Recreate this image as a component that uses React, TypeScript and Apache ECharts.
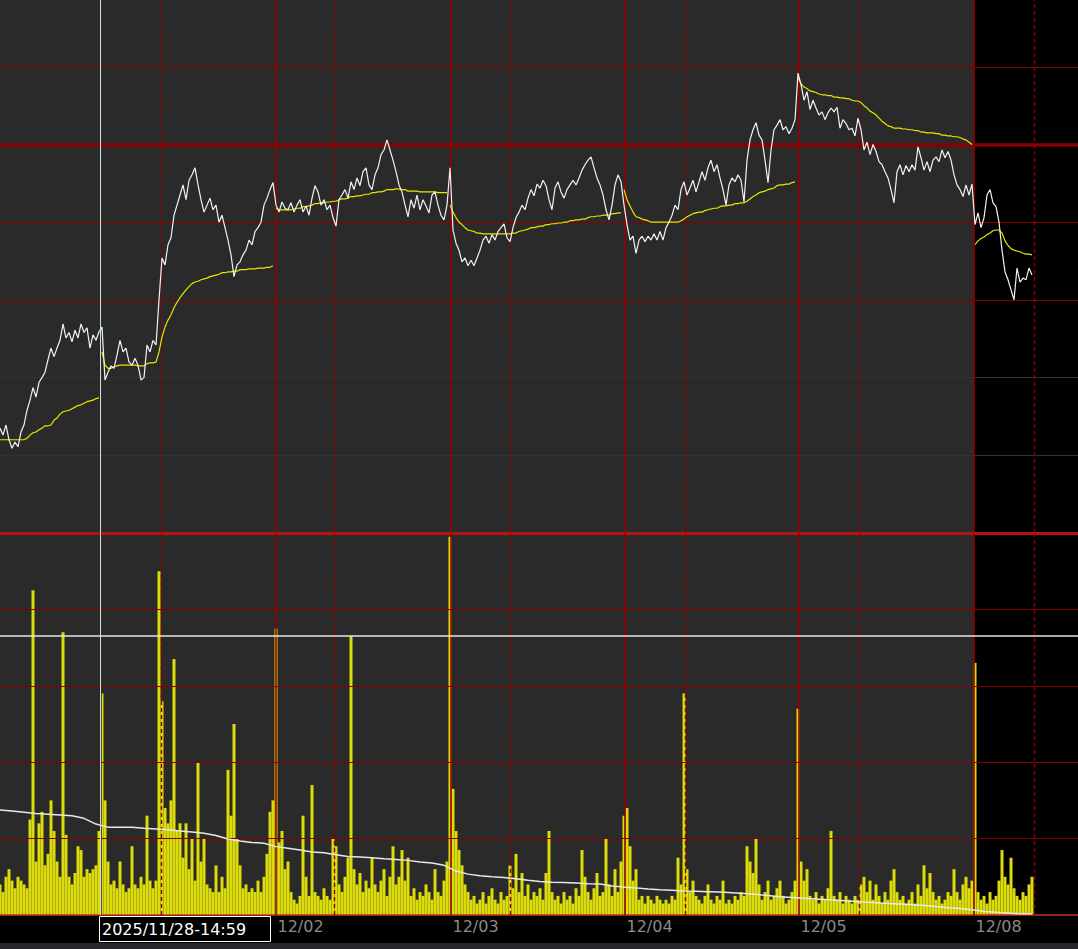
import React, { useEffect, useRef } from "react";
import * as echarts from "echarts";

// ---- axes (bar index) ----
const X_MIN = 0;
const X_MAX = 359.33;
const PRICE_MIN = 2400;
const PRICE_MAX = 2468.6;
const PRICE_STEP = 10;
const VOL_MIN = 0;
const VOL_MAX = 100;
const VOL_STEP = 20;

// session starts (12/01, 12/02, 12/03, 12/04, 12/05, 12/08)
const SESSION_STARTS = [33.5, 91.833, 150.167, 208.167, 266.167, 324.5];
// mid-morning dashed markers
const SESSION_MARKS = [53.833, 111.5, 170.167, 228.5, 286.5, 344.833];
const DAY_TICKS = [91.833, 150.167, 208.167, 266.167, 324.5];
const DAY_LABELS = ["12/02", "12/03", "12/04", "12/05", "12/08"];
const DAY_FIRST_BAR = [0, 34, 92, 150, 208, 266, 325];

// reference levels
const PRICE_LEVELS_THIN = [2460, 2440, 2430];
const PRICE_LEVELS_THICK = [2450];
const PRICE_LEVELS_FAINT = [2420, 2410];
const VOL_LEVELS = [20, 40, 60, 80];

// crosshair
const CROSS_X = 33.33;
const CROSS_VOL = 73.0;
const CROSS_LABEL = "2025/11/28-14:59";

// ---- price (last) per bar ----
const PRICE_1128 = [
  2413.5, 2412.6, 2413.9, 2412.0, 2410.9, 2411.7, 2411.1, 2413.0, 2413.9, 2415.8,
  2417.1, 2418.7, 2417.5, 2419.4, 2420.0, 2420.7, 2422.3, 2423.8, 2422.7, 2423.8,
  2424.8, 2426.9, 2425.1, 2425.8, 2424.6, 2426.1, 2425.1, 2426.9, 2425.8, 2426.4,
  2423.8, 2425.5, 2424.8, 2425.9,
];
const PRICE_1201 = [
  2426.5, 2419.7, 2420.7, 2421.5, 2421.2, 2422.9, 2424.8, 2423.3, 2423.8, 2422.0,
  2421.6, 2422.5, 2421.6, 2419.7, 2420.0, 2424.2, 2423.3, 2424.8, 2424.2, 2430.0,
  2435.4, 2434.5, 2437.1, 2438.0, 2440.9, 2442.2, 2443.5, 2444.8, 2442.9, 2445.4,
  2446.1, 2447.0, 2444.8, 2442.9, 2441.3, 2442.2, 2443.1, 2441.6, 2442.2, 2440.0,
  2440.9, 2439.3, 2437.7, 2435.8, 2433.0, 2434.5, 2434.9, 2435.8, 2436.4, 2437.7,
  2437.1, 2438.8, 2439.3, 2440.0, 2442.2, 2443.1, 2444.2, 2445.1,
];
const PRICE_1202 = [
  2442.2, 2441.3, 2442.6, 2441.8, 2441.6, 2442.5, 2441.3, 2442.2, 2442.9, 2441.3,
  2442.1, 2440.9, 2443.1, 2444.7, 2443.9, 2442.2, 2442.9, 2441.6, 2442.2, 2440.6,
  2439.5, 2442.9, 2443.5, 2444.2, 2443.1, 2445.2, 2444.2, 2445.7, 2444.7, 2446.5,
  2447.0, 2444.8, 2444.2, 2446.1, 2447.0, 2448.7, 2449.3, 2450.6, 2449.3, 2448.0,
  2446.5, 2444.8, 2443.9, 2442.2, 2440.7, 2442.9, 2441.8, 2443.5, 2441.6, 2442.9,
  2442.1, 2441.2, 2443.5, 2443.9, 2442.2, 2440.9, 2440.3, 2442.2,
];
const PRICE_1203 = [
  2447.0, 2439.0, 2437.3, 2436.4, 2434.9, 2435.4, 2434.4, 2435.1, 2434.4, 2435.4,
  2436.4, 2437.7, 2438.2, 2437.3, 2438.4, 2437.7, 2438.8, 2439.3, 2439.8, 2438.0,
  2437.5, 2439.3, 2440.6, 2441.3, 2442.2, 2441.6, 2443.1, 2444.2, 2443.4, 2444.9,
  2444.4, 2445.4, 2444.7, 2442.9, 2441.6, 2444.4, 2445.2, 2443.9, 2443.1, 2444.2,
  2444.8, 2445.4, 2444.8, 2445.7, 2446.7, 2447.4, 2448.0, 2448.4, 2447.0, 2445.7,
  2444.8, 2443.5, 2441.6, 2440.3, 2442.2, 2444.8, 2446.1, 2445.2,
];
const PRICE_1204 = [
  2442.2, 2439.7, 2437.7, 2438.2, 2436.0, 2437.7, 2438.2, 2437.5, 2438.2, 2437.7,
  2438.5, 2437.7, 2438.8, 2437.7, 2439.3, 2440.0, 2440.9, 2442.2, 2441.6, 2444.2,
  2445.2, 2443.5, 2444.4, 2445.4, 2443.9, 2445.2, 2446.5, 2445.4, 2447.0, 2448.0,
  2446.5, 2447.4, 2445.7, 2444.2, 2442.2, 2444.8, 2445.7, 2445.2, 2446.1, 2445.4,
  2442.6, 2448.0, 2450.6, 2451.9, 2452.8, 2451.2, 2450.6, 2448.0, 2445.1, 2449.3,
  2451.9, 2452.5, 2453.2, 2451.9, 2452.3, 2451.4, 2452.1, 2453.2,
];
const PRICE_1205 = [
  2459.2, 2457.7, 2455.7, 2456.8, 2454.5, 2455.7, 2454.7, 2453.8, 2454.2, 2453.2,
  2454.1, 2454.7, 2454.2, 2454.8, 2452.1, 2453.2, 2452.7, 2451.9, 2452.1, 2451.1,
  2453.4, 2451.9, 2449.3, 2450.3, 2448.7, 2450.0, 2449.1, 2447.8, 2447.4, 2446.5,
  2445.7, 2444.2, 2442.5, 2446.5, 2447.4, 2446.1, 2447.3, 2446.5, 2447.4, 2446.7,
  2449.7, 2448.3, 2446.7, 2447.8, 2446.5, 2448.0, 2448.4, 2447.8, 2449.3, 2448.3,
  2449.1, 2448.0, 2446.1, 2444.8, 2444.2, 2443.3, 2444.8, 2443.5, 2444.9,
];
const PRICE_1208 = [
  2439.7, 2441.2, 2439.3, 2440.6, 2443.5, 2444.2, 2442.5, 2442.0, 2440.0, 2436.4,
  2433.6, 2432.6, 2431.3, 2430.0, 2434.1, 2432.3, 2432.8, 2432.6, 2434.1, 2433.2,
];

// ---- VWAP per session ----
const VWAP_1128 = [
  2412.0, 2412.0, 2412.0, 2412.0, 2412.0, 2412.0, 2412.0, 2412.0, 2412.0, 2412.2,
  2412.6, 2412.9, 2413.0, 2413.3, 2413.5, 2413.8, 2413.8, 2413.9, 2414.5, 2414.8,
  2415.3, 2415.6, 2415.7, 2415.8, 2416.0, 2416.2, 2416.4, 2416.5, 2416.7, 2416.9,
  2417.0, 2417.1, 2417.3, 2417.4,
];
const VWAP_1201 = [
  2423.3, 2421.6, 2421.2, 2421.2, 2421.4, 2421.5, 2421.6, 2421.6, 2421.6, 2421.6,
  2421.6, 2421.6, 2421.5, 2421.5, 2421.5, 2421.8, 2421.9, 2421.9, 2422.0, 2423.3,
  2425.2, 2426.5, 2427.4, 2428.1, 2429.0, 2429.7, 2430.3, 2430.8, 2431.3, 2431.7,
  2432.1, 2432.3, 2432.4, 2432.6, 2432.7, 2432.8, 2433.0, 2433.1, 2433.2, 2433.3,
  2433.5, 2433.5, 2433.6, 2433.6, 2433.7, 2433.7, 2433.9, 2433.9, 2433.9, 2434.0,
  2434.0, 2434.0, 2434.1, 2434.1, 2434.1, 2434.2, 2434.2, 2434.4,
];
const VWAP_1202 = [
  2441.8, 2441.6, 2441.6, 2441.6, 2441.6, 2441.6, 2441.7, 2441.8, 2441.8, 2442.0,
  2442.0, 2442.1, 2442.2, 2442.4, 2442.4, 2442.5, 2442.5, 2442.6, 2442.6, 2442.7,
  2442.7, 2442.9, 2443.0, 2443.0, 2443.1, 2443.3, 2443.3, 2443.4, 2443.4, 2443.5,
  2443.6, 2443.6, 2443.8, 2443.8, 2443.9, 2443.9, 2444.0, 2444.2, 2444.2, 2444.2,
  2444.3, 2444.3, 2444.2, 2444.2, 2444.0, 2444.0, 2444.0, 2444.0, 2443.9, 2443.9,
  2443.9, 2443.9, 2443.9, 2443.9, 2443.8, 2443.8, 2443.8, 2443.8,
];
const VWAP_1203 = [
  2442.2, 2441.3, 2440.6, 2440.0, 2439.7, 2439.3, 2439.0, 2438.9, 2438.8, 2438.6,
  2438.6, 2438.5, 2438.5, 2438.5, 2438.5, 2438.5, 2438.5, 2438.5, 2438.5, 2438.5,
  2438.5, 2438.6, 2438.6, 2438.8, 2438.9, 2439.0, 2439.1, 2439.3, 2439.3, 2439.4,
  2439.5, 2439.5, 2439.7, 2439.7, 2439.8, 2439.8, 2439.9, 2439.9, 2440.0, 2440.0,
  2440.2, 2440.2, 2440.3, 2440.3, 2440.4, 2440.4, 2440.6, 2440.7, 2440.7, 2440.8,
  2440.8, 2440.9, 2440.9, 2440.9, 2441.1, 2441.1, 2441.2, 2441.2,
];
const VWAP_1204 = [
  2444.2, 2442.9, 2442.1, 2441.3, 2440.7, 2440.6, 2440.4, 2440.3, 2440.2, 2440.0,
  2440.0, 2440.0, 2440.0, 2440.0, 2440.0, 2440.0, 2440.0, 2440.0, 2440.0, 2440.2,
  2440.4, 2440.7, 2440.9, 2441.1, 2441.2, 2441.3, 2441.3, 2441.5, 2441.6, 2441.7,
  2441.8, 2441.8, 2442.0, 2442.1, 2442.1, 2442.2, 2442.2, 2442.4, 2442.4, 2442.5,
  2442.5, 2442.7, 2443.0, 2443.3, 2443.5, 2443.8, 2443.9, 2444.0, 2444.2, 2444.3,
  2444.4, 2444.7, 2444.8, 2444.8, 2444.9, 2444.9, 2445.1, 2445.2,
];
const VWAP_1205 = [
  2458.6, 2457.8, 2457.4, 2457.2, 2456.9, 2456.8, 2456.7, 2456.5, 2456.4, 2456.4,
  2456.3, 2456.3, 2456.1, 2456.1, 2456.0, 2456.0, 2455.9, 2455.9, 2455.7, 2455.6,
  2455.6, 2455.4, 2455.0, 2454.7, 2454.3, 2454.1, 2453.8, 2453.4, 2453.0, 2452.7,
  2452.4, 2452.3, 2452.1, 2452.1, 2452.1, 2452.0, 2452.0, 2451.9, 2451.9, 2451.8,
  2451.8, 2451.6, 2451.6, 2451.5, 2451.5, 2451.5, 2451.4, 2451.4, 2451.2, 2451.2,
  2451.1, 2451.1, 2451.0, 2451.0, 2450.9, 2450.7, 2450.6, 2450.3, 2450.0,
];
const VWAP_1208 = [
  2437.1, 2437.6, 2437.9, 2438.1, 2438.4, 2438.6, 2438.9, 2439.0, 2439.0, 2438.6,
  2437.6, 2437.0, 2436.6, 2436.4, 2436.3, 2436.2, 2436.0, 2435.9, 2435.9, 2435.8,
];

// ---- volume per bar ----
const VOLUME = [
  8, 6, 10, 12, 9, 7, 10, 9, 8, 7,
  25, 85, 14, 24, 27, 13, 16, 30, 22, 14,
  10, 74, 21, 10, 8, 11, 18, 17, 10, 12,
  11, 12, 13, 22, 58, 30, 14, 8, 9, 7,
  14, 8, 6, 7, 18, 8, 7, 10, 8, 26,
  9, 7, 9, 90, 56, 28, 24, 30, 67, 22,
  24, 15, 24, 12, 20, 9, 40, 14, 20, 8,
  7, 6, 13, 6, 10, 7, 38, 26, 50, 20,
  13, 7, 8, 6, 7, 6, 9, 6, 10, 16,
  27, 30, 75, 19, 22, 12, 14, 6, 4, 3,
  5, 26, 10, 5, 34, 6, 5, 4, 7, 5,
  4, 20, 18, 8, 6, 10, 15, 73, 12, 8,
  11, 6, 9, 7, 15, 8, 6, 9, 12, 5,
  10, 18, 8, 10, 17, 9, 15, 5, 7, 4,
  6, 5, 8, 6, 4, 12, 6, 5, 9, 14,
  99, 33, 22, 17, 13, 8, 6, 4, 5, 3,
  4, 6, 3, 5, 7, 4, 3, 6, 4, 5,
  13, 7, 16, 6, 11, 5, 8, 4, 6, 5,
  7, 4, 11, 22, 6, 4, 5, 3, 6, 4,
  5, 3, 7, 5, 17, 10, 6, 4, 7, 11,
  5, 6, 20, 8, 5, 12, 6, 14, 26, 28,
  18, 9, 12, 4, 5, 3, 5, 4, 3, 5,
  4, 3, 4, 3, 5, 4, 15, 8, 58, 12,
  6, 9, 5, 4, 3, 5, 8, 4, 3, 5,
  4, 9, 3, 4, 3, 5, 4, 6, 5, 18,
  14, 11, 20, 8, 4, 6, 9, 4, 5, 7,
  9, 5, 3, 4, 6, 9, 54, 14, 9, 12,
  5, 4, 6, 3, 5, 4, 7, 22, 5, 4,
  6, 3, 5, 4, 3, 5, 4, 8, 10, 6,
  9, 4, 8, 5, 3, 6, 4, 9, 12, 6,
  4, 5, 3, 4, 6, 3, 8, 5, 13, 7,
  11, 6, 4, 5, 3, 4, 6, 5, 12, 6,
  4, 8, 10, 7, 9, 66, 6, 4, 5, 3,
  6, 4, 5, 9, 17, 10, 8, 15, 7, 5,
  4, 6, 5, 8, 10,
];

// ---- volume moving average, one value every AVG_STEP bars ----
const AVG_STEP = 4;
const VOL_AVG = [
  27.5, 27.2, 26.9, 26.6, 26.4, 26.2, 26.0, 25.3, 23.8, 23.0,
  23.0, 23.0, 22.7, 22.5, 22.3, 22.0, 21.7, 21.4, 20.8, 19.9,
  19.4, 19.0, 18.8, 17.9, 17.5, 17.0, 16.5, 16.3, 15.8, 15.3,
  15.2, 15.0, 14.7, 14.5, 14.3, 13.9, 13.6, 13.0, 11.5, 10.7,
  10.3, 10.0, 9.8, 9.5, 9.1, 8.8, 8.6, 8.5, 8.4, 8.2,
  8.1, 7.6, 7.3, 7.1, 6.8, 6.6, 6.5, 6.3, 6.2, 6.1,
  6.0, 5.8, 5.6, 5.4, 5.1, 4.8, 4.6, 4.4, 4.2, 4.0,
  3.8, 3.6, 3.4, 3.2, 3.0, 2.9, 2.7, 2.5, 2.2, 1.9,
  1.7, 1.4, 0.9, 0.7, 0.5, 0.3, 0.3,
];

const DAY_PRICES = [PRICE_1128, PRICE_1201, PRICE_1202, PRICE_1203, PRICE_1204, PRICE_1205, PRICE_1208];
const DAY_VWAPS = [VWAP_1128, VWAP_1201, VWAP_1202, VWAP_1203, VWAP_1204, VWAP_1205, VWAP_1208];

const RED = "#8a0000";
const GRAY_BG = "#2a2a2a";
const YELLOW = "#dcdc0a";

export default function App() {
  const ref = useRef<HTMLDivElement>(null);

  useEffect(() => {
    document.body.style.margin = "0";
    const el = ref.current;
    if (!el) return;
    const chart = echarts.init(el, null, { renderer: "svg" });

    const pairs = (arr: number[], start: number) => arr.map((v, k) => [start + k, v]);
    const priceData = DAY_PRICES.flatMap((arr, d) => pairs(arr, DAY_FIRST_BAR[d]));
    const volData = VOLUME.map((v, i) => [i, v]);
    const avgData = VOL_AVG.map((v, k) => [k * AVG_STEP, v]);

    const verticalLines = [
      ...SESSION_STARTS.map((x) => ({ xAxis: x, lineStyle: { color: "#960000", width: 1.6, type: "solid" } })),
      ...SESSION_MARKS.map((x) => ({ xAxis: x, lineStyle: { color: "#900000", width: 1.4, type: [4, 3] } })),
    ];

    const lineMark = (data: any[], z = 5) => ({
      silent: true,
      z,
      symbol: ["none", "none"],
      label: { show: false },
      animation: false,
      data,
    });

    const option: any = {
      animation: false,
      backgroundColor: "#000",
      grid: [
        { left: 0, right: 0, top: 0, height: 533 },
        { left: 0, right: 0, top: 533, height: 382 },
      ],
      xAxis: [
        { gridIndex: 0, type: "value", min: X_MIN, max: X_MAX, show: false },
        {
          gridIndex: 1,
          type: "value",
          min: X_MIN,
          max: X_MAX,
          axisLine: { show: false },
          axisTick: { show: false },
          splitLine: { show: false },
          axisLabel: {
            customValues: DAY_TICKS,
            formatter: (v: number) => {
              const k = DAY_TICKS.findIndex((t) => Math.abs(t - v) < 0.01);
              return k >= 0 ? DAY_LABELS[k] : "";
            },
            color: "#8a8a8a",
            fontSize: 16,
            fontFamily: "DejaVu Sans",
            align: "left",
            margin: 3,
            padding: [0, 0, 0, 2],
            hideOverlap: false,
          },
        },
      ],
      yAxis: [
        { gridIndex: 0, type: "value", min: PRICE_MIN, max: PRICE_MAX, interval: PRICE_STEP, show: false },
        { gridIndex: 1, type: "value", min: VOL_MIN, max: VOL_MAX, interval: VOL_STEP, show: false },
      ],
      series: [
        {
          type: "line",
          xAxisIndex: 0,
          yAxisIndex: 0,
          data: [],
          silent: true,
          markArea: {
            silent: true,
            z: 1,
            itemStyle: { color: GRAY_BG },
            data: [[{ xAxis: X_MIN }, { xAxis: SESSION_STARTS[SESSION_STARTS.length - 1] }]],
          },
          markLine: lineMark([
            ...PRICE_LEVELS_FAINT.map((y) => ({ yAxis: y, lineStyle: { color: "#333333", width: 1, type: "solid" } })),
            ...PRICE_LEVELS_THIN.map((y) => ({ yAxis: y, lineStyle: { color: RED, width: 1, type: "solid" } })),
            ...PRICE_LEVELS_THICK.map((y) => ({ yAxis: y, lineStyle: { color: "#8b0000", width: 3.5, type: "solid" } })),
            ...verticalLines,
          ]),
        },
        {
          type: "line",
          xAxisIndex: 1,
          yAxisIndex: 1,
          data: [],
          silent: true,
          markArea: {
            silent: true,
            z: 1,
            itemStyle: { color: GRAY_BG },
            data: [[{ xAxis: X_MIN }, { xAxis: SESSION_STARTS[SESSION_STARTS.length - 1] }]],
          },
          markLine: lineMark([
            ...VOL_LEVELS.map((y) => ({ yAxis: y, lineStyle: { color: RED, width: 1, type: "solid" } })),
            { yAxis: VOL_MAX, lineStyle: { color: "#b8140f", width: 3, type: "solid" } },
            { yAxis: VOL_MIN, lineStyle: { color: "#c8321e", width: 1.5, type: "solid" } },
            ...verticalLines,
          ]),
        },
        {
          name: "Volume",
          type: "bar",
          xAxisIndex: 1,
          yAxisIndex: 1,
          data: volData,
          barWidth: 3,
          itemStyle: { color: YELLOW },
          z: 2,
        },
        {
          name: "Volume MA",
          type: "line",
          xAxisIndex: 1,
          yAxisIndex: 1,
          data: avgData,
          showSymbol: false,
          lineStyle: { color: "#e8e8e8", width: 1.5 },
          z: 6,
        },
        ...DAY_VWAPS.map((arr, d) => ({
          name: "VWAP",
          type: "line",
          xAxisIndex: 0,
          yAxisIndex: 0,
          data: pairs(arr, DAY_FIRST_BAR[d]),
          showSymbol: false,
          lineStyle: { color: "#e6e600", width: 1.2 },
          z: 6,
        })),
        {
          name: "Price",
          type: "line",
          xAxisIndex: 0,
          yAxisIndex: 0,
          data: priceData,
          showSymbol: false,
          lineStyle: { color: "#f2f2f2", width: 1.2 },
          z: 7,
        },
        {
          type: "line",
          xAxisIndex: 0,
          yAxisIndex: 0,
          data: [],
          silent: true,
          markLine: lineMark([{ xAxis: CROSS_X, lineStyle: { color: "#80ffff", width: 1, type: "solid" } }], 9),
        },
        {
          type: "line",
          xAxisIndex: 1,
          yAxisIndex: 1,
          data: [],
          silent: true,
          markLine: lineMark(
            [
              { xAxis: CROSS_X, lineStyle: { color: "#80ffff", width: 1, type: "solid" } },
              { yAxis: CROSS_VOL, lineStyle: { color: "#e6e6e6", width: 1.5, type: "solid" } },
            ],
            9
          ),
        },
      ],
    };

    chart.setOption(option);

    const px = chart.convertToPixel({ xAxisIndex: 1 }, CROSS_X) as number;
    chart.setOption({
      graphic: [
        {
          type: "group",
          z: 100,
          children: [
            {
              type: "rect",
              shape: { x: px - 0.5, y: 916.5, width: 171, height: 25 },
              style: { fill: "#000", stroke: "#ffffff", lineWidth: 1 },
            },
            {
              type: "text",
              x: px + 2,
              y: 929,
              style: {
                text: CROSS_LABEL,
                fill: "#ffffff",
                font: '16px "DejaVu Sans"',
                verticalAlign: "middle",
              },
            },
          ],
        },
      ],
    });

    return () => chart.dispose();
  }, []);

  return (
    <div style={{ width: 1078, height: 949, background: "#26282c" }}>
      <div ref={ref} style={{ width: 1078, height: 943 }} />
    </div>
  );
}
